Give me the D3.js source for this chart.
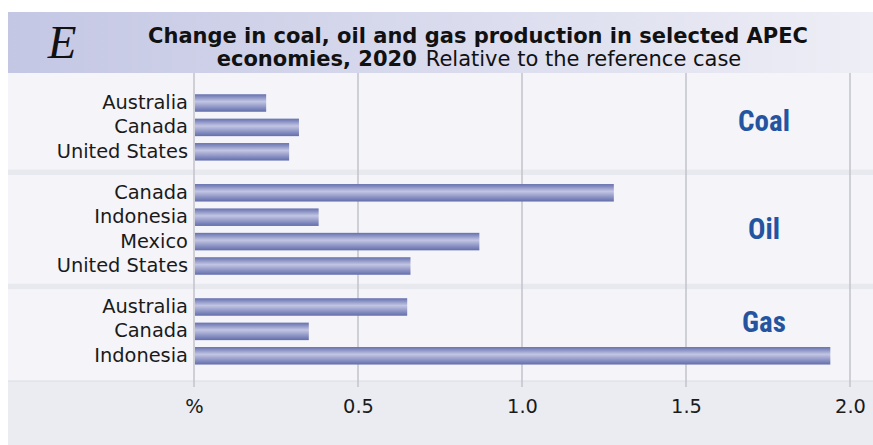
<!DOCTYPE html>
<html>
<head>
<meta charset="utf-8">
<script src="https://cdn.jsdelivr.net/npm/d3@7/dist/d3.min.js"></script>
<style>
  html, body { margin: 0; padding: 0; background: #ffffff; }
  svg { display: block; }
</style>
</head>
<body>
<svg id="chart" width="873" height="445"></svg>
<script>
// Fuel groups and the economies shown in each
const fuels = ["Coal", "Oil", "Gas"];
const coalEconomies = ["Australia", "Canada", "United States"];
const coalValues = [0.22, 0.32, 0.29];
const oilEconomies = ["Canada", "Indonesia", "Mexico", "United States"];
const oilValues = [1.28, 0.38, 0.87, 0.66];
const gasEconomies = ["Australia", "Canada", "Indonesia"];
const gasValues = [0.65, 0.35, 1.94];
const tickValues = [0, 0.5, 1.0, 1.5, 2.0];
const tickLabels = ["%", "0.5", "1.0", "1.5", "2.0"];

const W = 873, H = 445;
const left = 8, plotTop = 73, plotBottom = 381;
const groupGap = 0.68; // extra row slots between fuel groups

// Build row records
const groupData = [
  { fuel: fuels[0], names: coalEconomies, values: coalValues },
  { fuel: fuels[1], names: oilEconomies, values: oilValues },
  { fuel: fuels[2], names: gasEconomies, values: gasValues }
];
const rows = [];
let slot = 0;
groupData.forEach((g) => {
  g.start = slot;
  g.names.forEach((n, i) => {
    rows.push({ fuel: g.fuel, name: n, value: g.values[i], slot: slot });
    slot += 1;
  });
  g.end = slot - 1;
  slot += groupGap;
});

const x = d3.scaleLinear().domain([0, 2]).range([194, 850]);
const y = d3.scaleLinear().domain([0, 1]).range([103, 127.4]);
const barH = 17.5;
const labelFont = "'DejaVu Sans', sans-serif";
const labelSize = 19.4;

const svg = d3.select("#chart");
const defs = svg.append("defs");

const band = defs.append("linearGradient").attr("id", "titleBand")
  .attr("x1", "0%").attr("x2", "100%").attr("y1", "0%").attr("y2", "0%");
band.append("stop").attr("offset", "0%").attr("stop-color", "#c4c7e4");
band.append("stop").attr("offset", "100%").attr("stop-color", "#eeeef6");

const barGrad = defs.append("linearGradient").attr("id", "barFill")
  .attr("x1", "0%").attr("x2", "0%").attr("y1", "0%").attr("y2", "100%");
barGrad.append("stop").attr("offset", "0%").attr("stop-color", "#6570ae");
barGrad.append("stop").attr("offset", "42%").attr("stop-color", "#c2c5e3");
barGrad.append("stop").attr("offset", "100%").attr("stop-color", "#626dab");

// Panels
svg.append("rect").attr("x", left).attr("y", 12).attr("width", W - left).attr("height", plotTop - 12)
  .attr("fill", "url(#titleBand)");
svg.append("rect").attr("x", left).attr("y", plotTop).attr("width", W - left).attr("height", plotBottom - plotTop)
  .attr("fill", "#f4f4f9");
svg.append("rect").attr("x", left).attr("y", plotBottom).attr("width", W - left).attr("height", H - plotBottom)
  .attr("fill", "#ebebf2");
svg.append("line").attr("x1", left).attr("x2", W).attr("y1", plotBottom).attr("y2", plotBottom)
  .attr("stroke", "#dcdce4").attr("stroke-width", 1);

// Separators between fuel groups
for (let i = 0; i < groupData.length - 1; i++) {
  const a = y(groupData[i].end), b = y(groupData[i + 1].start);
  const mid = (a + b) / 2;
  svg.append("rect").attr("x", left).attr("y", mid - 2.7).attr("width", W - left).attr("height", 5.4)
    .attr("fill", "#e8e8ef");
}

// Vertical grid lines
svg.append("g").selectAll("line").data(tickValues).join("line")
  .attr("x1", d => x(d)).attr("x2", d => x(d))
  .attr("y1", plotTop).attr("y2", plotBottom + 6)
  .attr("stroke", "#c3c3cb").attr("stroke-width", 1.5);

// Bars
svg.append("g").selectAll("rect").data(rows).join("rect")
  .attr("x", x(0) + 1)
  .attr("y", d => y(d.slot) - barH / 2)
  .attr("width", d => x(d.value) - x(0) - 1)
  .attr("height", barH)
  .attr("fill", "url(#barFill)");

// Economy labels
svg.append("g").selectAll("text").data(rows).join("text")
  .attr("x", 188)
  .attr("y", d => y(d.slot) - 1)
  .attr("dy", "0.36em")
  .attr("text-anchor", "end")
  .attr("font-family", labelFont)
  .attr("font-size", labelSize)
  .attr("fill", "#1a1a1a")
  .text(d => d.name);

// Fuel labels
const fuelOffsets = [-7, -1, -10];
svg.append("g").selectAll("text").data(groupData).join("text")
  .attr("x", 764)
  .attr("y", (d, i) => (y(d.start) + y(d.end)) / 2 + fuelOffsets[i])
  .attr("dy", "0.36em")
  .attr("text-anchor", "middle")
  .attr("font-family", "'Liberation Sans Narrow', 'Roboto Condensed', Roboto, sans-serif")
  .attr("font-weight", "bold")
  .attr("font-size", 29)
  .attr("fill", "#2454a0")
  .text(d => d.fuel);

// Axis tick labels
const xAxis = d3.axisBottom(x).tickValues(tickValues).tickSize(0).tickPadding(0)
  .tickFormat((d, i) => tickLabels[i]);
const axisG = svg.append("g").attr("transform", `translate(0,${plotBottom})`).call(xAxis);
axisG.select(".domain").remove();
axisG.selectAll("text")
  .attr("y", 32).attr("dy", 0)
  .attr("font-family", labelFont)
  .attr("font-size", labelSize)
  .attr("fill", "#1a1a1a");

// Title
svg.append("text").attr("x", 62).attr("y", 58).attr("text-anchor", "middle")
  .attr("font-family", "'Liberation Serif', 'DejaVu Serif', serif")
  .attr("font-style", "italic").attr("font-size", 47).attr("fill", "#111")
  .text("E");

const titleFont = "'DejaVu Sans', sans-serif";
const t1 = svg.append("text").attr("x", 478).attr("y", 43).attr("text-anchor", "middle")
  .attr("font-family", titleFont).attr("font-weight", "bold")
  .attr("font-size", 20).attr("fill", "#111")
  .text("Change in coal, oil and gas production in selected APEC");
// size the first title line to span its band width
const w1 = t1.node().getComputedTextLength();
const titleSize = 20 * 660 / w1;
t1.attr("font-size", titleSize);

const t2 = svg.append("text").attr("x", 479).attr("y", 66).attr("text-anchor", "middle")
  .attr("font-family", titleFont).attr("fill", "#111");
t2.append("tspan").attr("font-weight", "bold").attr("font-size", titleSize).text("economies, 2020");
t2.append("tspan").attr("font-size", titleSize).attr("dx", 9).text("Relative to the reference case");
</script>
</body>
</html>
